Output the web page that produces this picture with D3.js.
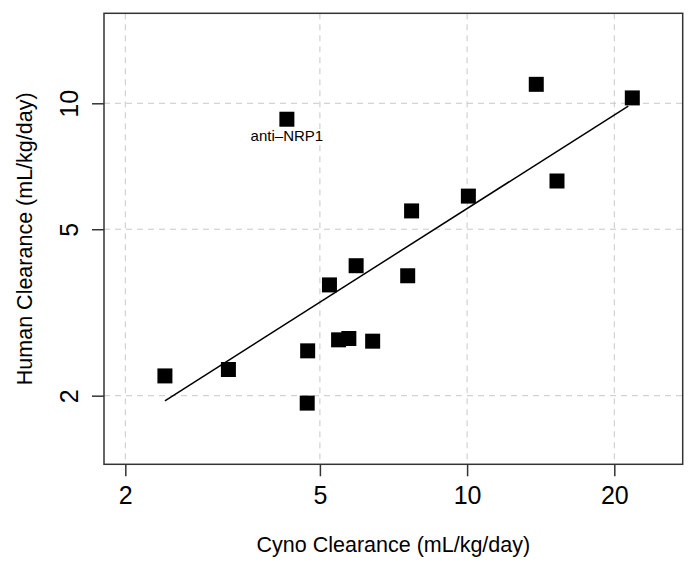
<!DOCTYPE html>
<html>
<head>
    <title>Human vs Cyno Clearance</title>
    <script src="https://d3js.org/d3.v7.min.js"></script>
    <style>
        body { margin: 0; background: #fff; }
        text { font-family: "Liberation Sans", Arial, Helvetica, sans-serif; fill: #000; }
    </style>
</head>
<body>
    <svg id="chart"></svg>

    <script>
        // cyno (x) and human (y) clearance, mL/kg/day
        const cynoCL  = [2.41, 3.25, 4.28, 4.72, 4.71, 5.23, 5.46, 5.73, 5.93, 6.41, 7.56, 7.70, 10.06, 15.27, 13.85, 21.77];
        const humanCL = [2.23, 2.31, 9.16, 2.56, 1.92, 3.68, 2.72, 2.74, 4.09, 2.70, 3.87, 5.53, 6.00, 6.52, 11.10, 10.30];
        const pointLabels = ["", "", "anti\u2013NRP1", "", "", "", "", "", "", "", "", "", "", "", "", ""];

        // regression line endpoints
        const fitX = [2.41, 21.36];
        const fitY = [1.945, 9.85];

        const xTicks = [2, 5, 10, 20];
        const yTicks = [2, 5, 10];

        const svgWidth = 700;
        const svgHeight = 569;
        const box = { left: 104, right: 682.7, top: 13.3, bottom: 464.3 };

        const svg = d3.select("#chart")
            .attr("width", svgWidth)
            .attr("height", svgHeight);

        const xScale = d3.scaleLog()
            .domain([1.809, 27.6])
            .range([box.left, box.right]);

        const yScale = d3.scaleLog()
            .domain([1.371, 16.41])
            .range([box.bottom, box.top]);

        // grid
        svg.append("g")
            .selectAll("line")
            .data(xTicks)
            .join("line")
            .attr("x1", d => xScale(d)).attr("x2", d => xScale(d))
            .attr("y1", box.top).attr("y2", box.bottom)
            .attr("stroke", "#c8c8c8")
            .attr("stroke-dasharray", "6,5");

        svg.append("g")
            .selectAll("line")
            .data(yTicks)
            .join("line")
            .attr("y1", d => yScale(d)).attr("y2", d => yScale(d))
            .attr("x1", box.left).attr("x2", box.right)
            .attr("stroke", "#c8c8c8")
            .attr("stroke-dasharray", "6,5");

        // fit line
        const line = d3.line()
            .x(d => xScale(d[0]))
            .y(d => yScale(d[1]));

        svg.append("path")
            .datum(d3.zip(fitX, fitY))
            .attr("fill", "none")
            .attr("stroke", "#000")
            .attr("stroke-width", 1.5)
            .attr("d", line);

        // points
        const pts = d3.zip(cynoCL, humanCL, pointLabels);
        const square = d3.symbol().type(d3.symbolSquare).size(225);

        svg.append("g")
            .selectAll("path")
            .data(pts)
            .join("path")
            .attr("transform", d => `translate(${xScale(d[0])},${yScale(d[1])})`)
            .attr("d", square)
            .attr("fill", "#000");

        svg.append("g")
            .selectAll("text")
            .data(pts.filter(d => d[2] !== ""))
            .join("text")
            .attr("x", d => xScale(d[0]))
            .attr("y", d => yScale(d[1]) + 22)
            .attr("text-anchor", "middle")
            .style("font-size", "15px")
            .text(d => d[2]);

        // box
        svg.append("rect")
            .attr("x", box.left).attr("y", box.top)
            .attr("width", box.right - box.left)
            .attr("height", box.bottom - box.top)
            .attr("fill", "none")
            .attr("stroke", "#333")
            .attr("stroke-width", 1.5);

        // axes
        const xAxis = svg.append("g")
            .attr("transform", `translate(0, ${box.bottom})`)
            .call(d3.axisBottom(xScale).tickValues(xTicks).tickFormat(d3.format("d")).tickSize(12).tickPadding(10));
        xAxis.select(".domain").remove();
        xAxis.selectAll("line").attr("stroke", "#333").attr("stroke-width", 1.5);
        xAxis.selectAll("text")
            .attr("font-family", null)
            .style("font-size", "25px");

        const yAxis = svg.append("g")
            .attr("transform", `translate(${box.left}, 0)`)
            .call(d3.axisLeft(yScale).tickValues(yTicks).tickFormat(d3.format("d")).tickSize(12));
        yAxis.select(".domain").remove();
        yAxis.selectAll("line").attr("stroke", "#333").attr("stroke-width", 1.5);
        yAxis.selectAll("text")
            .attr("x", null).attr("dy", null)
            .attr("text-anchor", "middle")
            .attr("transform", "translate(-26,0) rotate(-90)")
            .style("font-size", "25px");

        // axis titles
        svg.append("text")
            .attr("x", (box.left + box.right) / 2)
            .attr("y", 551.7)
            .attr("text-anchor", "middle")
            .style("font-size", "21.5px")
            .text("Cyno Clearance (mL/kg/day)");

        svg.append("text")
            .attr("transform", `translate(32.4, ${(box.top + box.bottom) / 2}) rotate(-90)`)
            .attr("text-anchor", "middle")
            .style("font-size", "21.5px")
            .text("Human Clearance (mL/kg/day)");
    </script>
</body>
</html>
